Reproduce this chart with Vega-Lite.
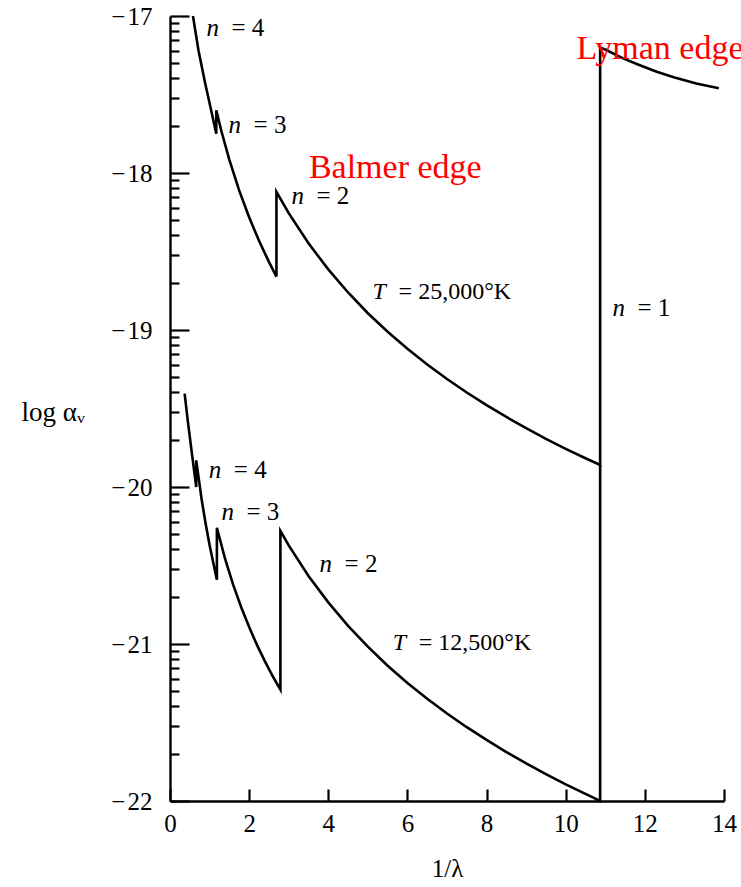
{
  "$schema": "https://vega.github.io/schema/vega-lite/v6.json",
  "width": 554,
  "height": 785,
  "autosize": "none",
  "padding": {"left": 170, "top": 16, "right": 17, "bottom": 86},
  "background": "white",
  "config": {
    "view": {"stroke": null},
    "axis": {
      "grid": false,
      "domainColor": "#000",
      "domainWidth": 2.4,
      "tickColor": "#000",
      "tickWidth": 2.2,
      "labelColor": "#000",
      "titleColor": "#000",
      "labelFont": "Liberation Serif",
      "titleFont": "Liberation Serif",
      "titleFontWeight": "normal",
      "labelOverlap": false,
      "labelBound": false,
      "labelFlush": false
    }
  },
  "datasets": {
    "curves": [
      {"s": "u", "i": 0, "x": 0.58, "y": -17.0},
      {"s": "u", "i": 1, "x": 0.72, "y": -17.22},
      {"s": "u", "i": 2, "x": 0.89, "y": -17.43},
      {"s": "u", "i": 3, "x": 1.04, "y": -17.6},
      {"s": "u", "i": 4, "x": 1.17, "y": -17.75},
      {"s": "u", "i": 5, "x": 1.17, "y": -17.6},
      {"s": "u", "i": 6, "x": 1.3, "y": -17.734},
      {"s": "u", "i": 7, "x": 1.5, "y": -17.916},
      {"s": "u", "i": 8, "x": 1.75, "y": -18.112},
      {"s": "u", "i": 9, "x": 2.0, "y": -18.282},
      {"s": "u", "i": 10, "x": 2.25, "y": -18.432},
      {"s": "u", "i": 11, "x": 2.5, "y": -18.566},
      {"s": "u", "i": 12, "x": 2.69, "y": -18.66},
      {"s": "u", "i": 13, "x": 2.69, "y": -18.12},
      {"s": "u", "i": 14, "x": 3.0, "y": -18.256},
      {"s": "u", "i": 15, "x": 3.5, "y": -18.448},
      {"s": "u", "i": 16, "x": 4.0, "y": -18.614},
      {"s": "u", "i": 17, "x": 4.5, "y": -18.761},
      {"s": "u", "i": 18, "x": 5.0, "y": -18.893},
      {"s": "u", "i": 19, "x": 5.5, "y": -19.011},
      {"s": "u", "i": 20, "x": 6.0, "y": -19.12},
      {"s": "u", "i": 21, "x": 6.5, "y": -19.22},
      {"s": "u", "i": 22, "x": 7.0, "y": -19.312},
      {"s": "u", "i": 23, "x": 7.5, "y": -19.398},
      {"s": "u", "i": 24, "x": 8.0, "y": -19.478},
      {"s": "u", "i": 25, "x": 8.5, "y": -19.554},
      {"s": "u", "i": 26, "x": 9.0, "y": -19.625},
      {"s": "u", "i": 27, "x": 9.5, "y": -19.693},
      {"s": "u", "i": 28, "x": 10.0, "y": -19.757},
      {"s": "u", "i": 29, "x": 10.5, "y": -19.817},
      {"s": "u", "i": 30, "x": 10.87, "y": -19.86},
      {"s": "u", "i": 31, "x": 10.87, "y": -17.2},
      {"s": "u", "i": 32, "x": 11.04, "y": -17.218},
      {"s": "u", "i": 33, "x": 11.45, "y": -17.27},
      {"s": "u", "i": 34, "x": 11.89, "y": -17.315},
      {"s": "u", "i": 35, "x": 12.3, "y": -17.355},
      {"s": "u", "i": 36, "x": 12.73, "y": -17.39},
      {"s": "u", "i": 37, "x": 13.3, "y": -17.43},
      {"s": "u", "i": 38, "x": 13.87, "y": -17.46},
      {"s": "l", "i": 0, "x": 0.37, "y": -19.405},
      {"s": "l", "i": 1, "x": 0.45, "y": -19.58},
      {"s": "l", "i": 2, "x": 0.55, "y": -19.78},
      {"s": "l", "i": 3, "x": 0.663, "y": -20.0},
      {"s": "l", "i": 4, "x": 0.663, "y": -19.83},
      {"s": "l", "i": 5, "x": 0.8, "y": -20.08},
      {"s": "l", "i": 6, "x": 0.9, "y": -20.233},
      {"s": "l", "i": 7, "x": 1.0, "y": -20.37},
      {"s": "l", "i": 8, "x": 1.1, "y": -20.49},
      {"s": "l", "i": 9, "x": 1.185, "y": -20.59},
      {"s": "l", "i": 10, "x": 1.185, "y": -20.26},
      {"s": "l", "i": 11, "x": 1.4, "y": -20.465},
      {"s": "l", "i": 12, "x": 1.6, "y": -20.625},
      {"s": "l", "i": 13, "x": 1.8, "y": -20.766},
      {"s": "l", "i": 14, "x": 2.0, "y": -20.892},
      {"s": "l", "i": 15, "x": 2.2, "y": -21.007},
      {"s": "l", "i": 16, "x": 2.4, "y": -21.111},
      {"s": "l", "i": 17, "x": 2.6, "y": -21.207},
      {"s": "l", "i": 18, "x": 2.79, "y": -21.29},
      {"s": "l", "i": 19, "x": 2.79, "y": -20.28},
      {"s": "l", "i": 20, "x": 3.0, "y": -20.372},
      {"s": "l", "i": 21, "x": 3.5, "y": -20.567},
      {"s": "l", "i": 22, "x": 4.0, "y": -20.735},
      {"s": "l", "i": 23, "x": 4.5, "y": -20.884},
      {"s": "l", "i": 24, "x": 5.0, "y": -21.017},
      {"s": "l", "i": 25, "x": 5.5, "y": -21.138},
      {"s": "l", "i": 26, "x": 6.0, "y": -21.248},
      {"s": "l", "i": 27, "x": 6.5, "y": -21.349},
      {"s": "l", "i": 28, "x": 7.0, "y": -21.443},
      {"s": "l", "i": 29, "x": 7.5, "y": -21.53},
      {"s": "l", "i": 30, "x": 8.0, "y": -21.611},
      {"s": "l", "i": 31, "x": 8.5, "y": -21.688},
      {"s": "l", "i": 32, "x": 9.0, "y": -21.76},
      {"s": "l", "i": 33, "x": 9.5, "y": -21.829},
      {"s": "l", "i": 34, "x": 10.0, "y": -21.894},
      {"s": "l", "i": 35, "x": 10.5, "y": -21.955},
      {"s": "l", "i": 36, "x": 10.87, "y": -22.0},
      {"s": "l", "i": 37, "x": 10.87, "y": -19.86}
    ],
    "nlab": [
      {"t": "= 4", "x": 0.92, "y": -17.077},
      {"t": "= 3", "x": 1.48, "y": -17.697},
      {"t": "= 2", "x": 3.07, "y": -18.146},
      {"t": "= 1", "x": 11.18, "y": -18.863},
      {"t": "= 4", "x": 0.98, "y": -19.894},
      {"t": "= 3", "x": 1.3, "y": -20.159},
      {"t": "= 2", "x": 3.78, "y": -20.488}
    ],
    "tlab": [
      {"t": "= 25,000°K", "x": 5.12, "y": -18.758},
      {"t": "= 12,500°K", "x": 5.63, "y": -20.996}
    ],
    "red": [
      {"t": "Balmer edge", "x": 3.51, "y": -18.029},
      {"t": "Lyman edge", "x": 10.27, "y": -17.271}
    ]
  },
  "encoding": {
    "x": {
      "field": "x",
      "type": "quantitative",
      "scale": {"domain": [0, 14], "nice": false, "zero": false},
      "axis": {
        "values": [0, 2, 4, 6, 8, 10, 12, 14],
        "tickSize": -12,
        "labelPadding": 34,
        "labelFontSize": 25,
        "labelBaseline": "middle",
        "title": "1/λ",
        "titleFontSize": 25,
        "titleY": 67,
        "titleBaseline": "middle"
      }
    },
    "y": {
      "field": "y",
      "type": "quantitative",
      "scale": {"domain": [-22, -17], "nice": false, "zero": false},
      "axis": {
        "values": [-22, -21.69897, -21.52288, -21.39794, -21.30103, -21.22185, -21.1549, -21.09691, -21.04576,
                   -21, -20.69897, -20.52288, -20.39794, -20.30103, -20.22185, -20.1549, -20.09691, -20.04576,
                   -20, -19.69897, -19.52288, -19.39794, -19.30103, -19.22185, -19.1549, -19.09691, -19.04576,
                   -19, -18.69897, -18.52288, -18.39794, -18.30103, -18.22185, -18.1549, -18.09691, -18.04576,
                   -18, -17.69897, -17.52288, -17.39794, -17.30103, -17.22185, -17.1549, -17.09691, -17.04576, -17],
        "labelExpr": "abs(datum.value - round(datum.value)) < 0.001 ? '\u2212\u200a' + abs(round(datum.value)) : ''",
        "tickSize": {"condition": {"test": "abs(datum.value - round(datum.value)) < 0.001", "value": -19}, "value": -9},
        "labelPadding": 37,
        "labelFontSize": 25,
        "title": "log αᵥ",
        "titleFontSize": 27,
        "titleAngle": 0,
        "titleAlign": "left",
        "titleBaseline": "middle",
        "titleX": -149,
        "titleY": 396
      }
    }
  },
  "layer": [
    {
      "data": {"name": "curves"},
      "mark": {"type": "line", "color": "#000", "strokeWidth": 2.6, "strokeJoin": "miter"},
      "encoding": {
        "detail": {"field": "s", "type": "nominal"},
        "order": {"field": "i", "type": "quantitative"}
      }
    },
    {
      "data": {"name": "nlab"},
      "mark": {"type": "text", "text": "n", "font": "Liberation Serif", "fontStyle": "italic", "fontSize": 25, "align": "left", "baseline": "middle", "color": "#000"}
    },
    {
      "data": {"name": "nlab"},
      "mark": {"type": "text", "font": "Liberation Serif", "fontSize": 25, "align": "left", "baseline": "middle", "dx": 25, "color": "#000"},
      "encoding": {"text": {"field": "t", "type": "nominal"}}
    },
    {
      "data": {"name": "tlab"},
      "mark": {"type": "text", "text": "T", "font": "Liberation Serif", "fontStyle": "italic", "fontSize": 24, "align": "left", "baseline": "middle", "color": "#000"}
    },
    {
      "data": {"name": "tlab"},
      "mark": {"type": "text", "font": "Liberation Serif", "fontSize": 24, "align": "left", "baseline": "middle", "dx": 26, "color": "#000"},
      "encoding": {"text": {"field": "t", "type": "nominal"}}
    },
    {
      "data": {"name": "red"},
      "mark": {"type": "text", "font": "Liberation Serif", "fontSize": 34, "align": "left", "baseline": "alphabetic", "color": "#ff0000"},
      "encoding": {"text": {"field": "t", "type": "nominal"}}
    }
  ]
}
